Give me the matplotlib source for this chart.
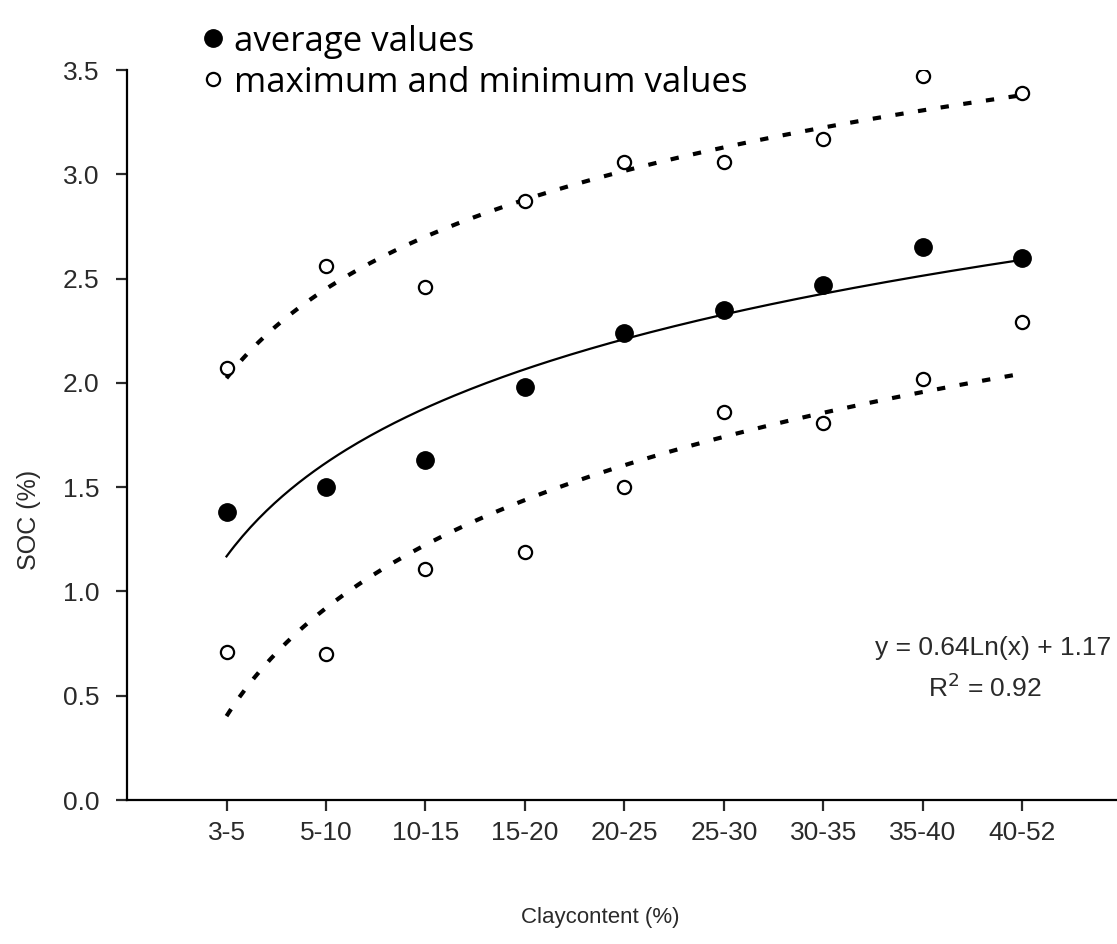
import numpy as np
import matplotlib
matplotlib.use("Agg")
import matplotlib.pyplot as plt

# Clay content classes and SOC values (%)
clay_classes = ["3-5", "5-10", "10-15", "15-20", "20-25", "25-30", "30-35", "35-40", "40-52"]
soc_avg = [1.38, 1.50, 1.63, 1.98, 2.24, 2.35, 2.47, 2.65, 2.60]
soc_max = [2.07, 2.56, 2.46, 2.87, 3.06, 3.06, 3.17, 3.47, 3.39]
soc_min = [0.71, 0.70, 1.11, 1.19, 1.50, 1.86, 1.81, 2.02, 2.29]

x = np.arange(1, len(clay_classes) + 1)


def log_trend(xs, ys):
    # Excel style logarithmic trendline: y = a*ln(x) + b
    a, b = np.polyfit(np.log(xs), ys, 1)
    xf = np.linspace(xs.min(), xs.max(), 200)
    return xf, a * np.log(xf) + b


plt.rcParams["font.family"] = ["Liberation Sans", "DejaVu Sans"]

fig = plt.figure(figsize=(11.17, 9.44), dpi=100)
ax = fig.add_axes([0.1137, 0.1525, 0.8863, 0.7733])

# trendlines
dotted = (0, (2, 3.5))
xf, yf = log_trend(x, soc_avg)
ax.plot(xf, yf, color="black", linewidth=1.6, zorder=2)
xf, yf = log_trend(x, soc_max)
ax.plot(xf, yf, color="black", linewidth=3, linestyle=dotted, zorder=2)
xf, yf = log_trend(x, soc_min)
ax.plot(xf, yf, color="black", linewidth=3, linestyle=dotted, zorder=2)

# points
ax.plot(x, soc_avg, "o", color="black", markersize=12.5, zorder=3, label="average values")
ax.plot(x, soc_max, "o", markerfacecolor="white", markeredgecolor="black",
        markeredgewidth=1.6, markersize=9.5, zorder=3, label="maximum and minimum values")
ax.plot(x, soc_min, "o", markerfacecolor="white", markeredgecolor="black",
        markeredgewidth=1.6, markersize=9.5, zorder=3)

ax.set_xlim(0, 9.95)
ax.set_ylim(0, 3.5)
ax.set_xticks(x)
ax.set_xticklabels(clay_classes)
ax.set_yticks(np.arange(0, 3.51, 0.5))
ax.set_yticklabels([f"{v:.1f}" for v in np.arange(0, 3.51, 0.5)])

for side in ["top", "right"]:
    ax.spines[side].set_visible(False)
for side in ["left", "bottom"]:
    ax.spines[side].set_linewidth(1.6)
ax.tick_params(axis="both", direction="out", length=8, width=1.6, labelsize=19, colors="#2a2a2a")
ax.tick_params(axis="x", pad=7)
ax.tick_params(axis="y", pad=12)

ax.set_ylabel("SOC (%)", fontsize=18, color="#2a2a2a")
ax.yaxis.set_label_coords(-0.087, 0.384)
ax.set_xlabel("Claycontent (%)", fontsize=16, color="#2a2a2a")
ax.xaxis.set_label_coords(0.478, -0.1466)

ax.text(0.994, 0.208, "y = 0.64Ln(x) + 1.17", transform=ax.transAxes,
        ha="right", va="center", fontsize=19, color="#2a2a2a")
ax.text(0.867, 0.154, "R$^2$ = 0.92", transform=ax.transAxes,
        ha="center", va="center", fontsize=19, color="#2a2a2a")

fig.legend(loc="upper left", bbox_to_anchor=(0.149, 1.007), frameon=False,
           handletextpad=0.15, handlelength=0.9, labelspacing=0.2,
           prop={"family": "Open Sans", "size": 25})

fig.savefig("out.png", dpi=100)
